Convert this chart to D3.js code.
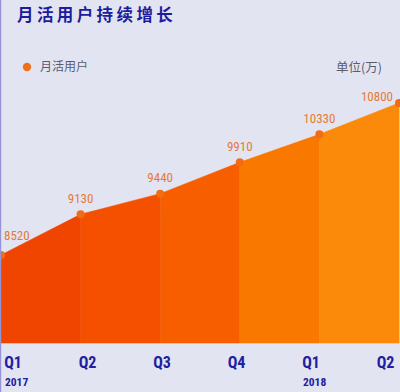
<!DOCTYPE html>
<html>
<head>
<meta charset="utf-8">
<script src="https://cdn.jsdelivr.net/npm/d3@7/dist/d3.min.js"></script>
<style>
  html, body { margin: 0; padding: 0; background: #e3e4f2; }
  svg { display: block; }
</style>
</head>
<body>
<div class="chart_container"></div>
<script>
// data
var quarters = ["Q1", "Q2", "Q3", "Q4", "Q1", "Q2"];
var years = ["2017", "", "", "", "2018", ""];
var users = [8520, 9130, 9440, 9910, 10330, 10800];
var segColors = ["#ef4500", "#f45000", "#f75e00", "#f97800", "#fb8a0a"];

var W = 400, H = 392;
var svg = d3.select(".chart_container").append("svg")
    .attr("width", W)
    .attr("height", H);

svg.append("rect").attr("width", W).attr("height", H).attr("fill", "#e3e4f2");

var numFont = "'Liberation Sans Narrow','Roboto Condensed','DejaVu Sans Condensed',sans-serif";
var cjkFont = "'Noto Sans CJK SC',sans-serif";

// title
svg.append("text")
    .attr("x", 17).attr("y", 21)
    .attr("font-family", cjkFont)
    .attr("font-weight", "bold")
    .attr("font-size", 16.5)
    .attr("letter-spacing", 3.4)
    .attr("fill", "#1c1c9c")
    .text("月活用户持续增长");

// legend
svg.append("circle").attr("cx", 27).attr("cy", 67).attr("r", 4.2).attr("fill", "#f07018");
svg.append("text")
    .attr("x", 40).attr("y", 71)
    .attr("font-family", cjkFont).attr("font-size", 12)
    .attr("fill", "#595d6b")
    .text("月活用户");
svg.append("text")
    .attr("x", 382).attr("y", 71.5)
    .attr("text-anchor", "end")
    .attr("font-family", cjkFont).attr("font-size", 12.5)
    .attr("fill", "#595d6b")
    .text("单位(万)");

// scales
var x = d3.scaleLinear().domain([0, users.length - 1]).range([1, 399]);
var y = d3.scaleLinear().domain([7200, 10800]).range([343, 103]);
var xLab = d3.scalePoint().domain(d3.range(quarters.length)).range([12.5, 385]);

var area = d3.area()
    .x(function(d){ return x(d.i); })
    .y0(y(7200))
    .y1(function(d){ return y(d.v); });

var pts = users.map(function(v, i){ return {i: i, v: v}; });

var g = svg.append("g");
// left edge area from border to first point
g.append("rect")
    .attr("x", 0).attr("width", x(0))
    .attr("y", y(users[0])).attr("height", y(7200) - y(users[0]))
    .attr("fill", segColors[0]);
for (var i = 0; i < pts.length - 1; i++) {
    g.append("path")
        .datum([pts[i], pts[i + 1]])
        .attr("d", area)
        .attr("fill", segColors[i])
        .attr("stroke", segColors[i])
        .attr("stroke-width", 0.6)
        .attr("stroke-linejoin", "round");
}

svg.append("line")
    .attr("x1", 0.6).attr("x2", 0.6).attr("y1", 0).attr("y2", H)
    .attr("stroke", "#9494d6").attr("stroke-width", 1.2);

// points
g.selectAll(".dot")
    .data(pts)
    .enter().append("circle")
    .attr("class", "dot")
    .attr("cx", function(d){ return x(d.i); })
    .attr("cy", function(d){ return y(d.v); })
    .attr("r", 4)
    .attr("fill", "#f36b12");

// value labels
var last = pts.length - 1;
g.selectAll(".val")
    .data(pts)
    .enter().append("text")
    .attr("class", "val")
    .attr("x", function(d){ return d.i === 0 ? 4 : d.i === last ? 393 : x(d.i); })
    .attr("y", function(d){ return y(d.v) - (d.i === 0 ? 15.5 : d.i === last ? 2.5 : 11.5); })
    .attr("text-anchor", function(d){ return d.i === 0 ? "start" : d.i === last ? "end" : "middle"; })
    .attr("font-family", numFont)
    .attr("font-size", 13)
    .attr("fill", "#e37b35")
    .text(function(d){ return d.v; });

// x axis labels
var ax = svg.append("g").attr("transform", "translate(0,368)")
    .call(d3.axisBottom(xLab).tickSize(0).tickPadding(0)
        .tickFormat(function(i){ return quarters[i]; }));
ax.select(".domain").remove();
ax.selectAll("text")
    .attr("y", 0).attr("dy", 0)
    .attr("font-family", numFont)
    .attr("font-weight", "bold")
    .attr("font-size", 16)
    .attr("fill", "#2020a0");

svg.append("g").selectAll("text")
    .data(years)
    .enter().append("text")
    .attr("x", function(d, i){ return xLab(i) - 7.5; })
    .attr("y", 386)
    .attr("font-family", numFont)
    .attr("font-weight", "bold")
    .attr("font-size", 11.5)
    .attr("fill", "#2020a0")
    .text(function(d){ return d; });
</script>
</body>
</html>
